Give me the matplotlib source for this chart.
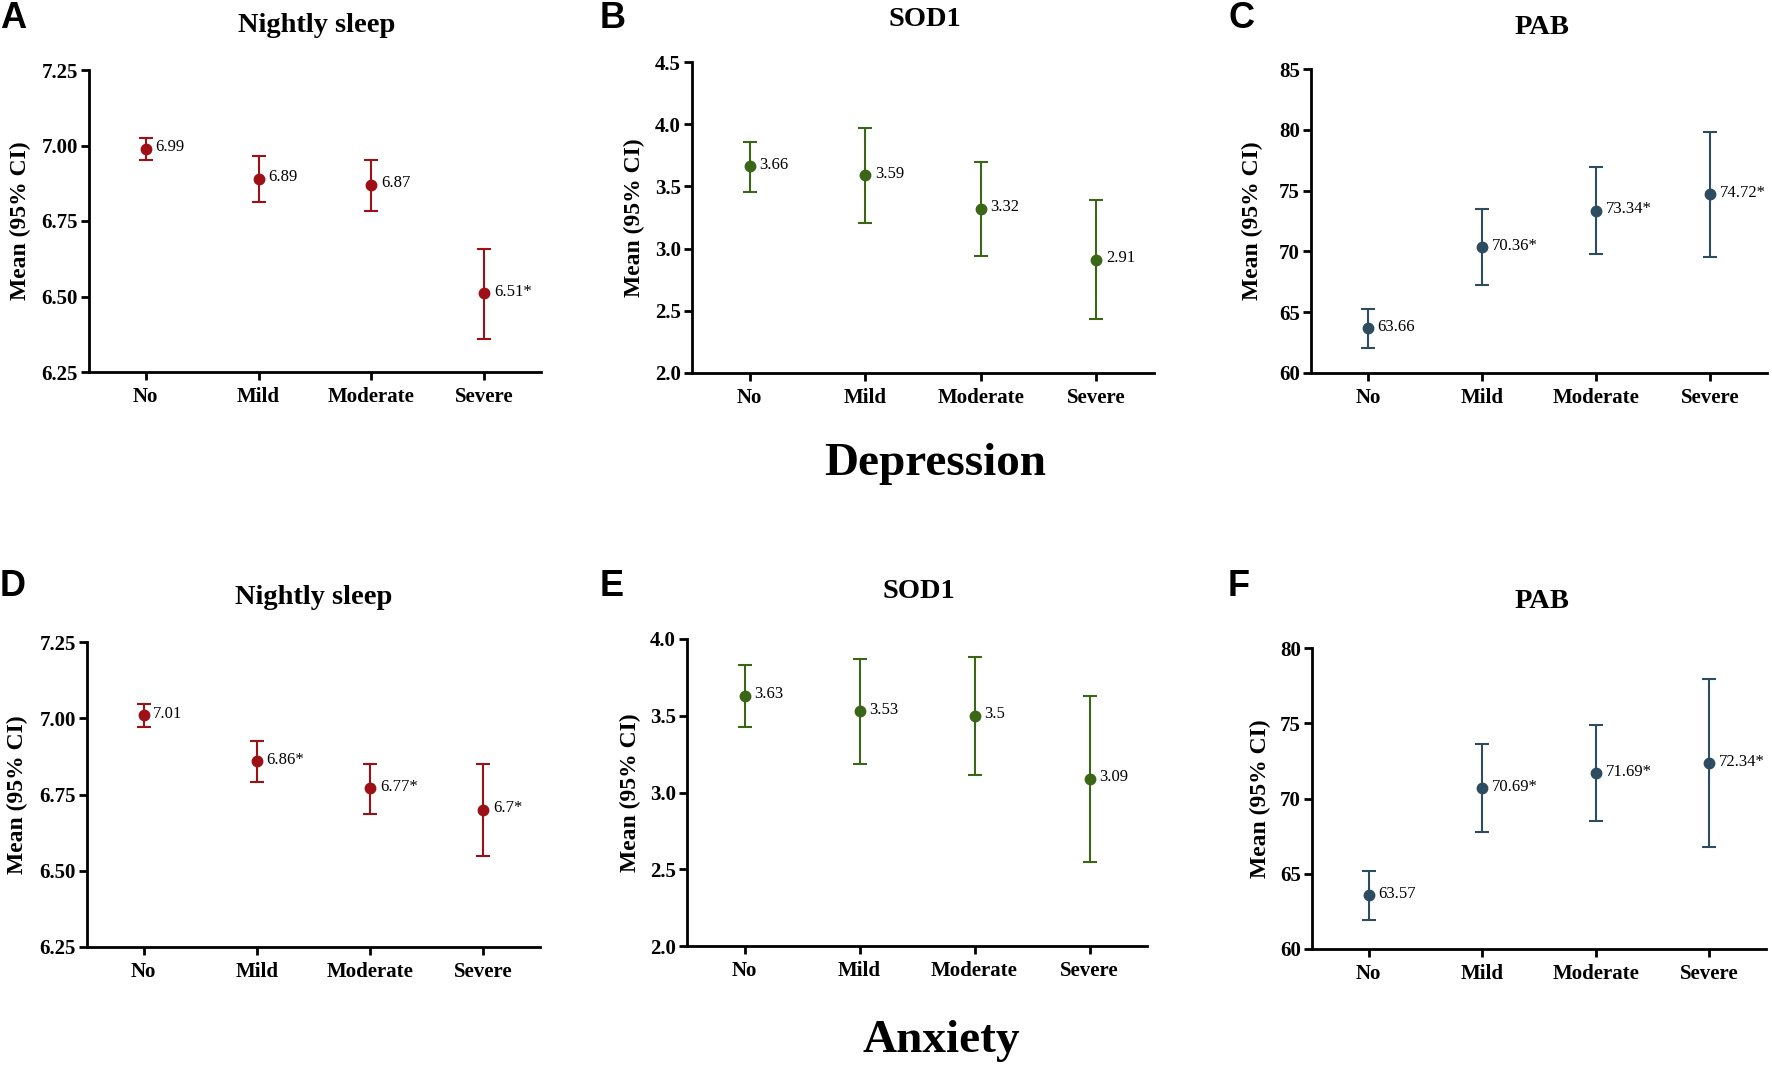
import matplotlib
matplotlib.use("Agg")
import matplotlib.pyplot as plt
import numpy as np

# categories shared by all panels
levels = ["No", "Mild", "Moderate", "Severe"]

# Depression row
sleep_dep_mean = [6.99, 6.89, 6.87, 6.51]
sleep_dep_lo = [6.953, 6.812, 6.784, 6.358]
sleep_dep_hi = [7.026, 6.966, 6.952, 6.658]
sleep_dep_lab = ["6.99", "6.89", "6.87", "6.51*"]

sod1_dep_mean = [3.66, 3.59, 3.32, 2.91]
sod1_dep_lo = [3.458, 3.209, 2.938, 2.432]
sod1_dep_hi = [3.860, 3.967, 3.699, 3.388]
sod1_dep_lab = ["3.66", "3.59", "3.32", "2.91"]

pab_dep_mean = [63.66, 70.36, 73.34, 74.72]
pab_dep_lo = [62.05, 67.20, 69.78, 69.58]
pab_dep_hi = [65.26, 73.50, 76.90, 79.85]
pab_dep_lab = ["63.66", "70.36*", "73.34*", "74.72*"]

# Anxiety row
sleep_anx_mean = [7.01, 6.86, 6.77, 6.70]
sleep_anx_lo = [6.971, 6.792, 6.687, 6.548]
sleep_anx_hi = [7.048, 6.926, 6.850, 6.849]
sleep_anx_lab = ["7.01", "6.86*", "6.77*", "6.7*"]

sod1_anx_mean = [3.63, 3.53, 3.50, 3.09]
sod1_anx_lo = [3.428, 3.187, 3.117, 2.546]
sod1_anx_hi = [3.833, 3.870, 3.880, 3.628]
sod1_anx_lab = ["3.63", "3.53", "3.5", "3.09"]

pab_anx_mean = [63.57, 70.69, 71.69, 72.34]
pab_anx_lo = [61.93, 67.80, 68.51, 66.76]
pab_anx_hi = [65.21, 73.59, 74.88, 77.94]
pab_anx_lab = ["63.57", "70.69*", "71.69*", "72.34*"]

RED = "#9c1016"
GREEN = "#3b6617"
BLUE = "#2d4c5f"
SERIF = "Liberation Serif"
SANS = "Liberation Sans"

W, H = 1772, 1067
fig = plt.figure(figsize=(W / 100, H / 100), dpi=100)


def px_axes(left, right, top, bottom):
    return fig.add_axes([left / W, 1 - bottom / H, (right - left) / W, (bottom - top) / H])


def panel(box, mean, lo, hi, labels, color, yticks, fmt, title, title_xy,
          letter, letter_xy, ylab_x):
    ax = px_axes(*box)
    x = np.arange(len(levels))
    mean = np.array(mean)
    err = np.vstack([mean - np.array(lo), np.array(hi) - mean])
    ax.errorbar(x, mean, yerr=err, fmt="o", color=color, ms=7.5, elinewidth=1.5,
                capsize=5, capthick=1.5, zorder=3)
    for xi, m, t in zip(x, mean, labels):
        ax.annotate(t, (xi, m), xytext=(7, 1), textcoords="offset points",
                    va="center", ha="left", fontsize=12, family=SERIF)
    ax.set_xlim(-0.5, 3.5)
    ax.set_ylim(yticks[0], yticks[-1])
    ax.set_yticks(yticks)
    ax.set_yticklabels([fmt % v for v in yticks])
    ax.set_xticks(x)
    ax.set_xticklabels(levels)
    for s in ["top", "right"]:
        ax.spines[s].set_visible(False)
    for s in ["left", "bottom"]:
        ax.spines[s].set_linewidth(2.0)
    ax.tick_params(axis="both", width=2.0, length=6, labelsize=15)
    ax.tick_params(axis="x", pad=5)
    ax.tick_params(axis="y", pad=2)
    for lab in ax.get_xticklabels() + ax.get_yticklabels():
        lab.set_family(SERIF)
        lab.set_fontweight("bold")
    fig.text(title_xy[0] / W, 1 - title_xy[1] / H, title, ha="center", va="center",
             fontsize=20.5, fontweight="bold", family=SERIF)
    fig.text(letter_xy[0] / W, 1 - letter_xy[1] / H, letter, ha="left", va="center",
             fontsize=26, fontweight="bold", family=SANS)
    yc = (box[2] + box[3]) / 2
    fig.text(ylab_x / W, 1 - yc / H, "Mean (95% CI)", rotation=90, ha="center",
             va="center", fontsize=17, fontweight="bold", family=SERIF)
    return ax


sleep_ticks = [6.25, 6.50, 6.75, 7.00, 7.25]

panel((89, 541, 70, 372), sleep_dep_mean, sleep_dep_lo, sleep_dep_hi, sleep_dep_lab, RED,
      sleep_ticks, "%.2f", "Nightly sleep", (317, 26), "A", (0, 19), 20)
panel((692, 1154, 62, 373), sod1_dep_mean, sod1_dep_lo, sod1_dep_hi, sod1_dep_lab, GREEN,
      [2.0, 2.5, 3.0, 3.5, 4.0, 4.5], "%.1f", "SOD1", (925, 19), "B", (600, 19), 634)
panel((1311, 1767, 69, 373), pab_dep_mean, pab_dep_lo, pab_dep_hi, pab_dep_lab, BLUE,
      [60, 65, 70, 75, 80, 85], "%d", "PAB", (1542, 27), "C", (1228, 19), 1252)

panel((87, 540, 642, 947), sleep_anx_mean, sleep_anx_lo, sleep_anx_hi, sleep_anx_lab, RED,
      sleep_ticks, "%.2f", "Nightly sleep", (314, 597), "D", (0, 586), 17)
panel((687, 1147, 639, 946), sod1_anx_mean, sod1_anx_lo, sod1_anx_hi, sod1_anx_lab, GREEN,
      [2.0, 2.5, 3.0, 3.5, 4.0], "%.1f", "SOD1", (919, 592), "E", (600, 586), 630)
panel((1312, 1766, 648, 949), pab_anx_mean, pab_anx_lo, pab_anx_hi, pab_anx_lab, BLUE,
      [60, 65, 70, 75, 80], "%d", "PAB", (1542, 602), "F", (1228, 586), 1260)

fig.text(935 / W, 1 - 464 / H, "Depression", ha="center", va="center",
         fontsize=34, fontweight="bold", family=SERIF)
fig.text(941 / W, 1 - 1041 / H, "Anxiety", ha="center", va="center",
         fontsize=34, fontweight="bold", family=SERIF)

fig.savefig("out.png", dpi=100)
plt.close(fig)
